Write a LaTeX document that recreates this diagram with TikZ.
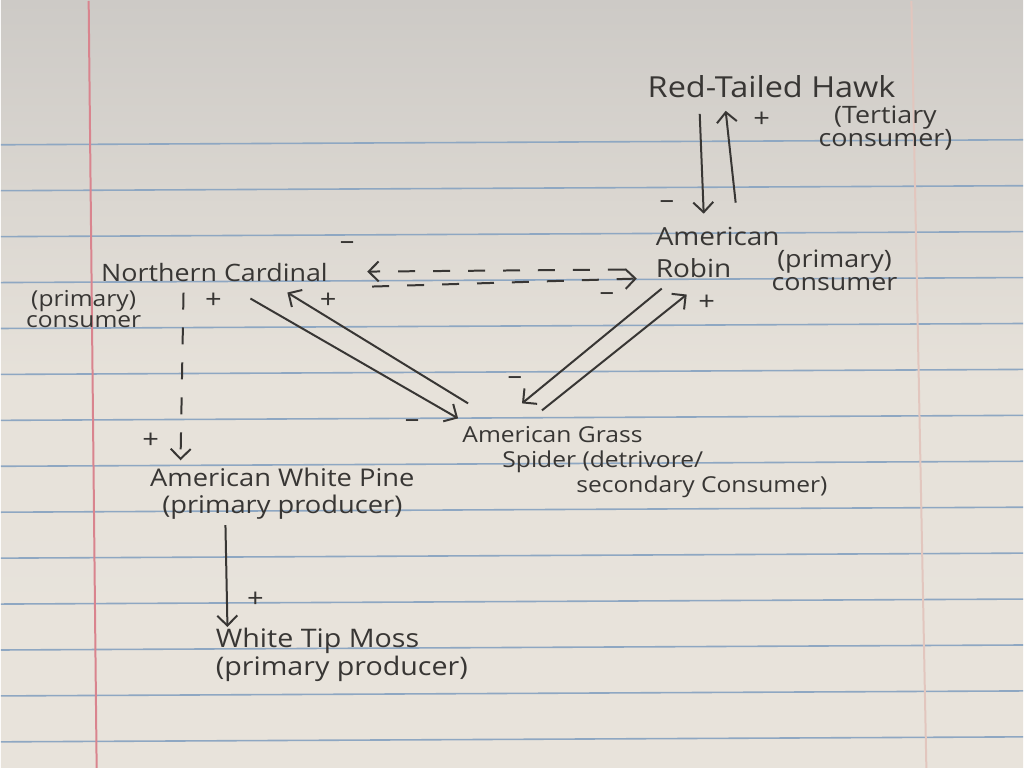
\documentclass[tikz,border=0pt]{standalone}
\usepackage{fontspec}
\setmainfont{Open Sans}[FakeStretch=1.12]
\usetikzlibrary{calc,arrows.meta}

\definecolor{paper}{HTML}{E8E3DB}
\definecolor{papertop}{HTML}{CDCAC6}
\definecolor{rule}{HTML}{8EA7C2}
\definecolor{margin}{HTML}{D9848E}
\definecolor{farmargin}{HTML}{E2C6BE}
\definecolor{pencil}{HTML}{383634}

\begin{document}
\begin{tikzpicture}[x=0.5pt,y=-0.5pt,
    species/.style={text=pencil,inner sep=0pt,align=center,font=\fontsize{12}{13}\selectfont},
    sign/.style={text=pencil,inner sep=0pt,font=\fontsize{13}{13}\selectfont},
    link/.style={draw=pencil,line width=1pt,-{Straight Barb[length=5pt,width=10pt]}},
    dlink/.style={link,dash pattern=on 8.5pt off 9pt}]
            \shade[top color=papertop,bottom color=paper,middle color=paper!96!papertop] (0,0) rectangle (1024,768);
            \foreach \y in {142,188,...,740}
              \draw[rule,line width=0.8pt] (0,\y+2) -- (1024,\y-3);
            \draw[margin,line width=1pt] (88,0) -- (96,768);
            \draw[farmargin,line width=1pt] (912,0) -- (927,768);

            \node[species,font=\fontsize{14.5}{15}\selectfont] (hawk) at (772,86) {Red-Tailed Hawk};
            \node[species,font=\fontsize{12}{11.5}\selectfont] (hawkrole) at (886,127) {(Tertiary\\consumer)};
            \node[species,align=left,font=\fontsize{12.5}{16}\selectfont] (robin) at (718,252) {American\\Robin};
            \node[species,font=\fontsize{12}{11.5}\selectfont] (robinrole) at (835,270) {(primary)\\consumer};
            \node[species] (cardinal) at (214,272) {Northern Cardinal};
            \node[species,font=\fontsize{11}{10.5}\selectfont] (cardrole) at (83,309) {(primary)\\consumer};
            \node[species,align=left,anchor=north west,font=\fontsize{11}{12.5}\selectfont] (spider) at (462,426)
              {American Grass\\\hspace*{20pt}Spider (detrivore/\\\hspace*{57pt}secondary Consumer)};
            \node[species,font=\fontsize{12.2}{13.5}\selectfont] (pine) at (282,493) {American White Pine\\(primary producer)};
            \node[species,align=left,anchor=north west,font=\fontsize{12.8}{12.5}\selectfont] (moss) at (215,628)
              {White Tip Moss\\(primary producer)};

            \draw[link] ($(hawk)+(-72,27)$) -- ($(robin)+(-14,-39)$);
            \draw[link] ($(robin)+(18,-50)$) -- ($(hawk)+(-46,24)$);
            \draw[dlink] ($(robin)+(-93,17)$) -- ($(cardinal)+(153,-1)$);
            \draw[dlink] ($(cardinal)+(158,14)$) -- ($(robin)+(-81,26)$);
            \draw[dlink] ($(cardinal)+(-31,20)$) -- ($(pine)+(-102,-33)$);
            \draw[link] ($(cardinal)+(36,26)$) -- ($(spider.north west)+(-4,-8)$);
            \draw[link] ($(spider.north west)+(6,-23)$) -- ($(cardinal)+(73,20)$);
            \draw[link] ($(robin)+(-56,36)$) -- ($(spider.north west)+(60,-23)$);
            \draw[link] ($(spider.north west)+(80,-16)$) -- ($(robin)+(-31,42)$);
            \draw[link] ($(pine)+(-57,32)$) -- ($(moss.north west)+(12,-1)$);

            \node[sign] (hawkplus) at (762,119) {+};
            \node[sign] (robinminus) at (667,204) {–};
            \node[sign] (cardminus) at (347,245) {–};
            \node[sign] (robindash) at (607,296) {–};
            \node[sign] (cardplus) at (213,300) {+};
            \node[sign] (pineplus) at (150,440) {+};
            \node[sign] (cardspider) at (328,300) {+};
            \node[sign] (spiderminus) at (412,423) {–};
            \node[sign] (spiderrobin) at (515,380) {–};
            \node[sign] (robinplus) at (707,302) {+};
            \node[sign] (mossplus) at (255,600) {+};
\end{tikzpicture}
\end{document}
